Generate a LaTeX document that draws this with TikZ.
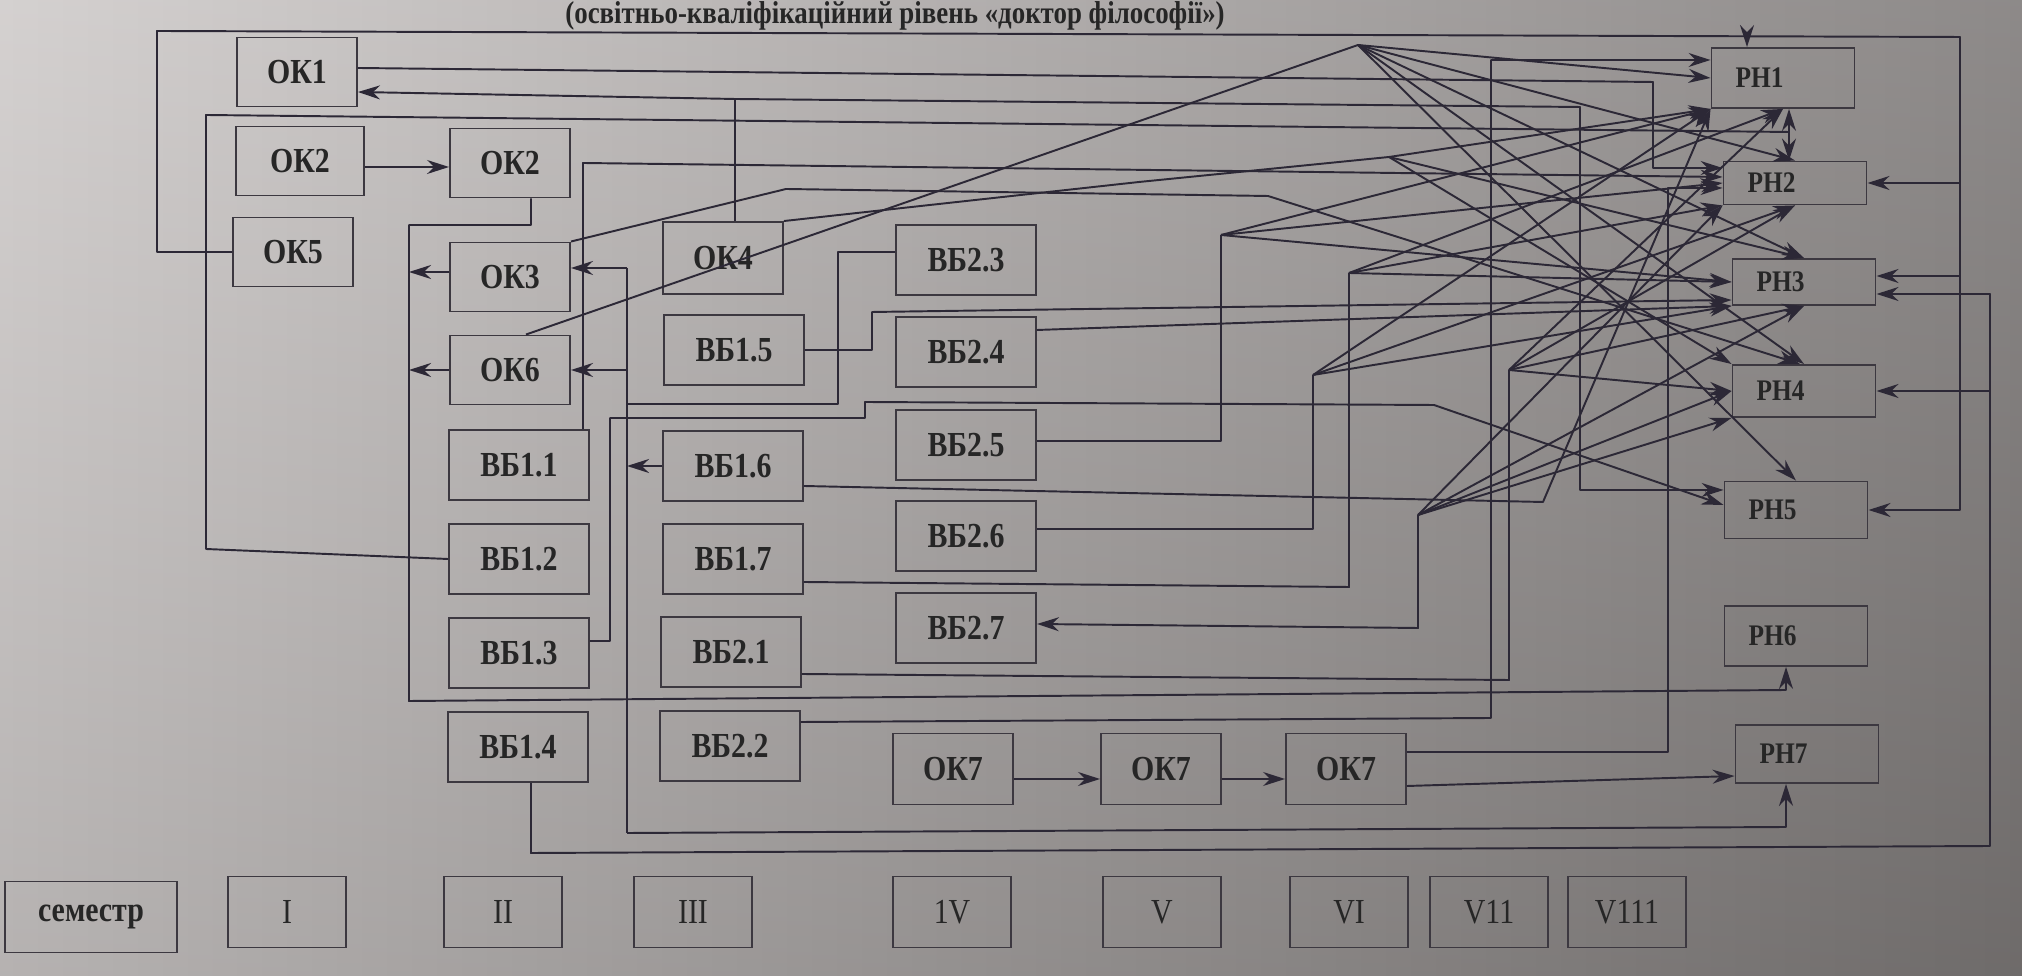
\documentclass[tikz,border=0pt]{standalone}
\usepackage{fontspec}
\setmainfont{Liberation Serif}[FakeStretch=0.85]
\usetikzlibrary{arrows.meta}

\definecolor{ink}{RGB}{44,40,54}
\definecolor{edge}{RGB}{60,56,64}
\definecolor{bgL}{RGB}{207,203,202}
\definecolor{bgM}{RGB}{180,176,175}
\definecolor{bgR}{RGB}{126,122,121}

\begin{document}
\begin{tikzpicture}[x=0.1mm, y=-0.1mm,
	box/.style={draw=edge, line width=0.55pt, inner sep=0pt, text=black!85, font=\bfseries\fontsize{10}{11}\selectfont},
	ok/.style={box, minimum width=12mm, minimum height=6.9mm},
	vb/.style={box, minimum width=14mm, minimum height=7mm},
	rn/.style={box, font=\bfseries\fontsize{8.5}{9}\selectfont, text width=9.5mm, align=left, inner xsep=2.4mm},
	sem/.style={box, font=\fontsize{10}{11}\selectfont, minimum width=11.8mm, minimum height=7.1mm},
	ln/.style={draw=ink, line width=0.55pt, line join=round},
	arr/.style={ln, -{Stealth[length=2.2mm, width=1.4mm]}}]

	\useasboundingbox (0,0) rectangle (2022,976);
	\shade[left color=bgL, middle color=bgM, right color=bgR] (0,0) rectangle (2022,976);
	\shade[top color=white, bottom color=black, opacity=0.12] (0,0) rectangle (2022,976);

	\node[font=\bfseries\fontsize{9}{10}\selectfont, text=black!85, anchor=base] (title) at (895,24)
		{(освітньо-кваліфікаційний рівень «доктор філософії»)};

	% семестри I--IV
	\node[ok] (ok1) at (297,72) {ОК1};
	\node[ok, minimum width=12.8mm] (ok2a) at (300,161) {ОК2};
	\node[ok] (ok5) at (293,252) {ОК5};
	\node[ok] (ok2b) at (510,163) {ОК2};
	\node[ok] (ok3) at (510,277) {ОК3};
	\node[ok] (ok6) at (510,370) {ОК6};
	\node[ok, minimum height=7.2mm] (ok4) at (723,258) {ОК4};
	\node[vb] (vb11) at (519,465) {ВБ1.1};
	\node[vb] (vb12) at (519,559) {ВБ1.2};
	\node[vb] (vb13) at (519,653) {ВБ1.3};
	\node[vb] (vb14) at (518,747) {ВБ1.4};
	\node[vb] (vb15) at (734,350) {ВБ1.5};
	\node[vb] (vb16) at (733,466) {ВБ1.6};
	\node[vb] (vb17) at (733,559) {ВБ1.7};
	\node[vb] (vb21) at (731,652) {ВБ2.1};
	\node[vb] (vb22) at (730,746) {ВБ2.2};
	\node[vb] (vb23) at (966,260) {ВБ2.3};
	\node[vb] (vb24) at (966,352) {ВБ2.4};
	\node[vb] (vb25) at (966,445) {ВБ2.5};
	\node[vb] (vb26) at (966,536) {ВБ2.6};
	\node[vb] (vb27) at (966,628) {ВБ2.7};
	\node[ok, minimum height=7.1mm] (ok7a) at (953,769) {ОК7};
	\node[ok, minimum height=7.1mm] (ok7b) at (1161,769) {ОК7};
	\node[ok, minimum height=7.1mm] (ok7c) at (1346,769) {ОК7};

	% результати навчання
	\node[rn, minimum height=6mm] (rn1) at (1783,78) {РН1};
	\node[rn, minimum height=4.3mm] (rn2) at (1795,183) {РН2};
	\node[rn, minimum height=4.6mm] (rn3) at (1804,282) {РН3};
	\node[rn, minimum height=5.2mm] (rn4) at (1804,391) {РН4};
	\node[rn, minimum height=5.7mm] (rn5) at (1796,510) {РН5};
	\node[rn, minimum height=6mm] (rn6) at (1796,636) {РН6};
	\node[rn, minimum height=5.8mm] (rn7) at (1807,754) {РН7};

	% рядок семестрів
	\node[sem, minimum width=17.2mm, font=\bfseries\fontsize{10}{11}\selectfont] (sem0) at (91,917) {семестр};
	\foreach \nm/\x/\t in {s1/287/I, s2/503/II, s3/693/III, s4/952/1V, s5/1162/V, s6/1349/VI, s7/1489/V11, s8/1627/V111}
		\node[sem] (\nm) at (\x,912) {\t};

	% вузли розгалуження
	\coordinate (f1) at (1358,45);
	\coordinate (f2) at (1389,157);
	\coordinate (f3) at (1221,235);
	\coordinate (f4) at (1349,273);
	\coordinate (f5) at (1313,375);
	\coordinate (f6) at (1509,370);
	\coordinate (f7) at (1418,515);
	\coordinate (tl) at (157,31);
	\coordinate (tr) at (1960,37);
	\coordinate (bl) at (531,853);
	\coordinate (br) at (1990,846);
	\coordinate (ok4t) at (735,99);
	\coordinate (j12) at (1789,132);
	\coordinate (bus1) at (627,268);
	\coordinate (bus2) at (627,833);
	\coordinate (c6) at (1786,690);
	\coordinate (c7) at (1786,827);

	\draw[arr] (ok2a.east |- 0,167) -- (ok2b.west |- 0,167);
	\draw[arr] (ok7a.east |- 0,779) -- (ok7b.west |- 0,779);
	\draw[arr] (ok7b.east |- 0,779) -- (ok7c.west |- 0,779);
	\draw[arr] (ok7c.east |- 0,786) -- (rn7.west |- 0,776);
	\draw[arr] (ok7c.east |- 0,752) -| (1668,188) -- (rn2.west |- 0,188);

	% великі контури
	\draw[arr] (ok5.west) -- (ok5.west -| tl) -- (tl) -- (tr) -- (tr |- rn5.east) -- (rn5.east);
	\draw[arr] (tr |- rn2.east) -- (rn2.east);
	\draw[arr] (tr |- 0,276) -- (rn3.east |- 0,276);
	\draw[arr] (1747,36) -- (rn1.north -| 1747,0);
	\draw[arr] (vb14.south -| bl) -- (bl) -- (br) -- (br |- 0,294) -- (rn3.east |- 0,294);
	\draw[arr] (br |- rn4.east) -- (rn4.east);

	\draw[arr] (ok2b.south -| 531,0) -- (531,225) -- (409,225) -- (409,701) -- (c6) -- (rn6.south -| c6);
	\draw[arr] (ok3.west |- 0,272) -- (409,272);
	\draw[arr] (ok6.west) -- (ok6.west -| 409,0);

	\draw[ln] (bus1) -- (bus2);
	\draw[arr] (bus1) -- (ok3.east |- bus1);
	\draw[arr] (bus1 |- ok6.east) -- (ok6.east);
	\draw[arr] (vb16.west) -- (vb16.west -| bus1);
	\draw[arr] (bus2) -- (c7) -- (rn7.south -| c7);
	\draw[ln] (vb23.west |- 0,252) -- (838,252) -- (838,404) -- (bus1 |- 0,404);

	\draw[arr] (vb15.east) -- (872,350) -- (872,312) -- (rn3.west |- 0,300);
	\draw[arr] (vb13.east |- 0,641) -- (610,641) -- (610,418) -- (865,418) -- (865,402) -- (1434,405) -- (rn5.west |- 0,505);
	\draw[arr] (ok1.east |- 0,68) -- (1653,82) -- (1653,168) -- (rn2.west |- 0,168);
	\draw[ln] (ok4.north -| ok4t) -- (ok4t);
	\draw[arr] (ok4t) -- (ok1.east |- 0,92);
	\draw[arr] (ok4t) -- (1580,107) -- (1580,490) -- (rn5.west |- 0,490);
	\draw[ln] (vb12.west) -- (206,549) -- (206,115) -- (j12);
	\draw[arr] (j12) -- (rn1.south -| j12);
	\draw[arr] (j12) -- (rn2.north -| j12);
	\draw[arr] (vb11.north -| 583,0) -- (583,163) -- (rn2.west |- 0,177);
	\draw[arr] (ok3.north east) -- (786,189) -- (1268,196) -- (rn4.north -| 1800,0);
	\draw[arr] (vb16.east |- 0,486) -- (1543,502) -- (rn1.south west);
	\draw[arr] (vb22.east |- 0,722) -- (1491,718) -- (1491,60) -- (rn1.west |- 0,60);
	\draw[arr] (vb24.east |- 0,330) -- (rn3.south west);

	% підведення до вузлів
	\draw[ln] (ok6.north -| 526,0) -- (f1);
	\draw[ln] (ok4.north east) -- (1139,182) -- (f2);
	\draw[ln] (vb25.east |- 0,441) -- (f3 |- 0,441) -- (f3);
	\draw[ln] (vb17.east |- 0,582) -- (f4 |- 0,587) -- (f4);
	\draw[ln] (vb26.east |- 0,529) -- (f5 |- 0,529) -- (f5);
	\draw[ln] (vb21.east |- 0,674) -- (f6 |- 0,680) -- (f6);
	\draw[arr] (f7) -- (f7 |- 0,628) -- (vb27.east |- 0,624);

	% віяла стрілок до РН
	\foreach \e in {rn1.west, rn2.north, rn3.north, rn4.north, rn5.north}
		\draw[arr] (f1) -- (\e);
	\foreach \e in {rn1.south west, rn3.north, rn4.north west}
		\draw[arr] (f2) -- (\e);
	\foreach \e in {rn1.south west, rn2.west, rn3.west}
		\draw[arr] (f3) -- (\e);
	\foreach \e in {rn1.south, rn2.south west, rn3.west}
		\draw[arr] (f4) -- (\e);
	\foreach \e in {rn1.south west, rn2.south, rn3.south west}
		\draw[arr] (f5) -- (\e);
	\foreach \e in {rn1.south, rn2.south, rn3.south, rn4.west}
		\draw[arr] (f6) -- (\e);
	\foreach \e in {rn2.south west, rn3.south, rn4.west, rn4.south west}
		\draw[arr] (f7) -- (\e);
\end{tikzpicture}
\end{document}
